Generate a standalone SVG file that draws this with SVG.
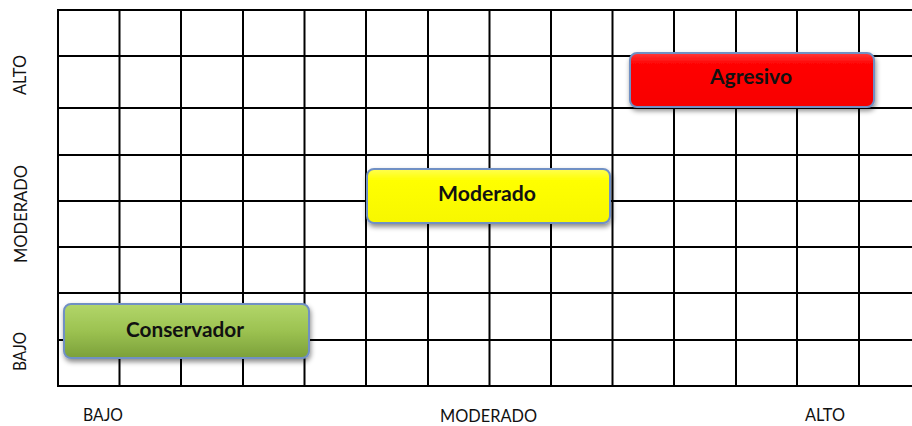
<svg xmlns="http://www.w3.org/2000/svg" width="912" height="426" viewBox="0 0 912 426">
<style>
.grid line{stroke:#000;stroke-width:2}
.box{stroke:#7090c4;stroke-width:2}
.lbl{font-family:Lato,"Liberation Sans",sans-serif;font-weight:bold;font-size:21px;fill:#111;text-anchor:middle}
.ax{font-family:Lato,"Liberation Sans",sans-serif;font-size:17px;fill:#111}
</style>
<defs>
<filter id="sh" x="-10%" y="-30%" width="120%" height="170%">
<feDropShadow dx="1" dy="3" stdDeviation="2.5" flood-color="#000" flood-opacity="0.45"/>
</filter>
<linearGradient id="gR" x1="0" y1="0" x2="0" y2="1"><stop offset="0" stop-color="#ff3a3a"/><stop offset="0.2" stop-color="#ff0505"/><stop offset="1" stop-color="#f70000"/></linearGradient>
<linearGradient id="gY" x1="0" y1="0" x2="0" y2="1"><stop offset="0" stop-color="#ffff50"/><stop offset="0.2" stop-color="#ffff05"/><stop offset="1" stop-color="#f7f700"/></linearGradient>
<linearGradient id="gG" x1="0" y1="0" x2="0" y2="1"><stop offset="0" stop-color="#b2d66a"/><stop offset="0.5" stop-color="#9cc251"/><stop offset="1" stop-color="#7ba03a"/></linearGradient>
</defs>
<rect width="912" height="426" fill="#fff"/>
<g class="grid">
<line x1="58" y1="10" x2="58" y2="386"/>
<line x1="119.5" y1="10" x2="119.5" y2="386"/>
<line x1="181" y1="10" x2="181" y2="386"/>
<line x1="243" y1="10" x2="243" y2="386"/>
<line x1="304.5" y1="10" x2="304.5" y2="386"/>
<line x1="366" y1="10" x2="366" y2="386"/>
<line x1="428" y1="10" x2="428" y2="386"/>
<line x1="489.5" y1="10" x2="489.5" y2="386"/>
<line x1="551" y1="10" x2="551" y2="386"/>
<line x1="612.5" y1="10" x2="612.5" y2="386"/>
<line x1="674" y1="10" x2="674" y2="386"/>
<line x1="736" y1="10" x2="736" y2="386"/>
<line x1="797" y1="10" x2="797" y2="386"/>
<line x1="859" y1="10" x2="859" y2="386"/>
<line x1="57" y1="10" x2="912" y2="10"/>
<line x1="57" y1="56" x2="912" y2="56"/>
<line x1="57" y1="108" x2="912" y2="108"/>
<line x1="57" y1="155" x2="912" y2="155"/>
<line x1="57" y1="201" x2="912" y2="201"/>
<line x1="57" y1="247" x2="912" y2="247"/>
<line x1="57" y1="293" x2="912" y2="293"/>
<line x1="57" y1="340" x2="912" y2="340"/>
<line x1="57" y1="386" x2="912" y2="386"/>
</g>
<g id="agresivo">
<rect class="box" x="630" y="53" width="244" height="54" rx="7" fill="url(#gR)" filter="url(#sh)"/>
<text class="lbl" x="751" y="84" textLength="82" lengthAdjust="spacingAndGlyphs">Agresivo</text>
</g>
<g id="moderado">
<rect class="box" x="367" y="169" width="243" height="54" rx="7" fill="url(#gY)" filter="url(#sh)"/>
<text class="lbl" x="487" y="201" textLength="98" lengthAdjust="spacingAndGlyphs">Moderado</text>
</g>
<g id="conservador">
<rect class="box" x="64" y="304" width="245" height="54" rx="7" fill="url(#gG)" filter="url(#sh)"/>
<text class="lbl" x="185" y="337" textLength="118" lengthAdjust="spacingAndGlyphs">Conservador</text>
</g>
<g id="axis-labels">
<text class="ax" x="83" y="421" textLength="40" lengthAdjust="spacingAndGlyphs">BAJO</text>
<text class="ax" x="440" y="422" textLength="97" lengthAdjust="spacingAndGlyphs">MODERADO</text>
<text class="ax" x="805" y="421" textLength="40" lengthAdjust="spacingAndGlyphs">ALTO</text>
<text class="ax" transform="translate(26,95) rotate(-90)" textLength="40" lengthAdjust="spacingAndGlyphs">ALTO</text>
<text class="ax" transform="translate(27,263) rotate(-90)" textLength="98" lengthAdjust="spacingAndGlyphs">MODERADO</text>
<text class="ax" transform="translate(26,371) rotate(-90)" textLength="39" lengthAdjust="spacingAndGlyphs">BAJO</text>
</g>
</svg>
